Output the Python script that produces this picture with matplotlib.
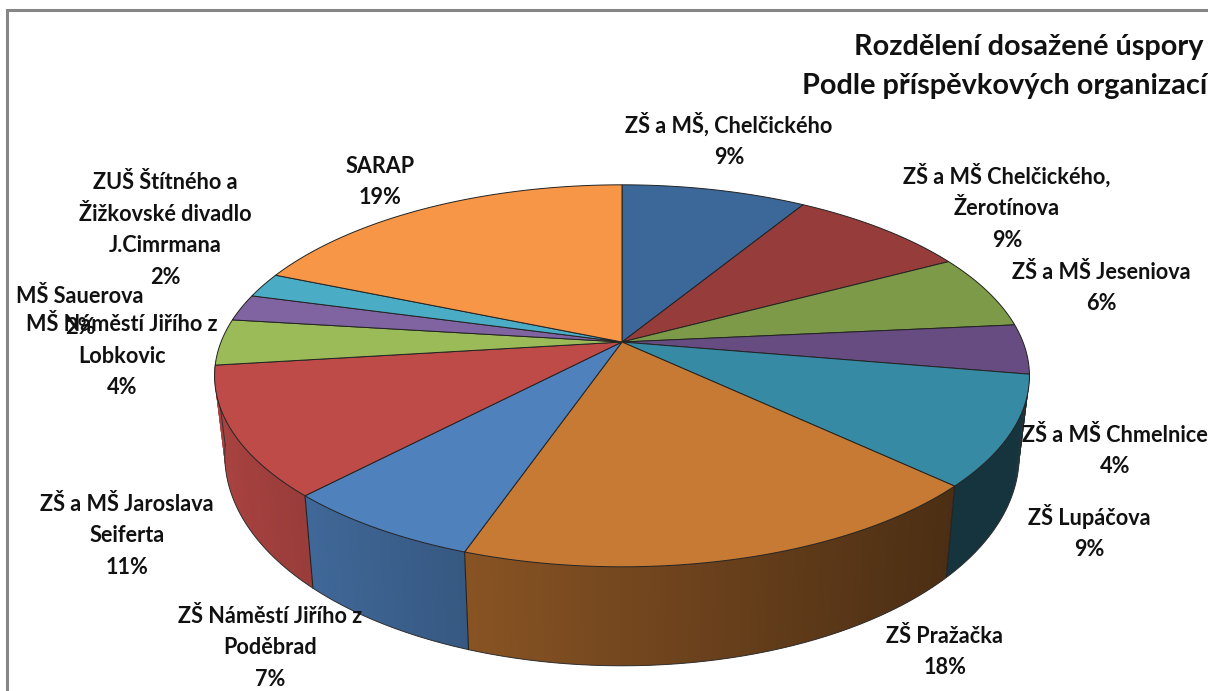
import numpy as np
import matplotlib
matplotlib.use("Agg")
import matplotlib.pyplot as plt
from matplotlib.patches import Polygon

# ---- data ----
categories = ["ZŠ a MŠ, Chelčického", "ZŠ a MŠ Chelčického,\nŽerotínova", "ZŠ a MŠ Jeseniova",
              "ZŠ a MŠ Chmelnice", "ZŠ Lupáčova", "ZŠ Pražačka", "ZŠ Náměstí Jiřího z\nPoděbrad",
              "ZŠ a MŠ Jaroslava\nSeiferta", "MŠ Náměstí Jiřího z\nLobkovic", "MŠ Sauerova",
              "ZUŠ Štítného a\nŽižkovské divadlo\nJ.Cimrmana", "SARAP"]
values = [8.7, 8.5, 6.3, 4.2, 9.3, 18.3, 6.8, 10.95, 3.9, 2.25, 2.1, 18.7]
percent_labels = [9, 9, 6, 4, 9, 18, 7, 11, 4, 2, 2, 19]
title_lines = ["Rozdělení dosažené úspory", "Podle příspěvkových organizací"]

# ---- style / layout ----
colors = ["#3C6899", "#963C3A", "#7D9A48", "#664C80", "#378AA3", "#C77A34",
          "#4F81BD", "#BE4B48", "#9BBB59", "#8064A2", "#4BACC6", "#F79646"]
label_pos = [(729, 140), (1007, 207), (1101, 288), (1115, 451), (1089, 532), (945, 652),
             (270, 648), (127, 536), (122, 356), (80, 312), (165, 230), (380, 182)]
FONT = "Lato"
CX, CY, A, B, K = 622.0, 342.0, 401.0, 185.0, 0.177
SHRINK = 0.975

def top_xy(theta):
    X, Y = np.sin(theta), -np.cos(theta)
    w = 1 - K * Y
    return CX + A * X / w, CY + B * Y / w

def bottom_xy(theta):
    x, y = top_xy(theta)
    Y = -np.cos(theta)
    return CX + (x - CX) * SHRINK, y + 75 + 24 * Y

def side_shade(x):
    return np.interp(x, [225, 312, 470, 947, 1025], [0.88, 0.80, 0.68, 0.38, 0.38])

fig = plt.figure(figsize=(12.08, 6.91), dpi=100)
ax = fig.add_axes([0, 0, 1, 1])
ax.set_xlim(0, 1208)
ax.set_ylim(691, 0)
ax.axis("off")

# chart-area frame
ax.plot([7, 7, 1208], [691, 10, 10], color="#868686", lw=2.2, solid_joinstyle="miter", zorder=1)

vals = np.array(values, dtype=float)
edges = np.concatenate([[0], np.cumsum(vals)]) / vals.sum() * 2 * np.pi
edge_c = "#222222"
SIDE_MIN, SIDE_MAX = np.radians(99), np.radians(262.5)

# side walls: overlapping strips, drawn in order, so that no seams show
z = 2.0
for i, col in enumerate(colors):
    a0, a1 = max(edges[i], SIDE_MIN), min(edges[i + 1], SIDE_MAX)
    if a1 <= a0:
        continue
    ts = np.linspace(a0, a1, max(2, int((a1 - a0) * 120)))
    rgb = np.array(matplotlib.colors.to_rgb(col))
    for t0, t1 in zip(ts[:-1], ts[1:]):
        t_end = min(t1 + 0.012, a1)
        xa, ya = top_xy(np.array([t0, t_end]))
        xb, yb = bottom_xy(np.array([t_end, t0]))
        c = rgb * side_shade((xa.mean() + xb.mean()) / 2)
        ax.add_patch(Polygon(np.c_[np.r_[xa, xb], np.r_[ya, yb]], closed=True,
                             facecolor=c, edgecolor="none", lw=0, zorder=z))
        z += 1e-4
for i in range(len(colors)):
    if SIDE_MIN < edges[i] < SIDE_MAX:
        xa, ya = top_xy(edges[i])
        xb, yb = bottom_xy(edges[i])
        ax.plot([xa, xb], [ya, yb], color=edge_c, lw=0.8, zorder=3)

# outer contour of the wall
ts = np.linspace(SIDE_MIN, SIDE_MAX, 300)
xb, yb = bottom_xy(ts)
ax.plot(xb, yb, color="#333333", lw=0.7, zorder=3)
for t in (SIDE_MIN, SIDE_MAX):
    xa, ya = top_xy(t)
    xb, yb = bottom_xy(t)
    ax.plot([xa, xb], [ya, yb], color="#333333", lw=0.7, zorder=3)

# top faces
for i, col in enumerate(colors):
    ts = np.linspace(edges[i], edges[i + 1], 80)
    x, y = top_xy(ts)
    pts = np.c_[np.r_[CX, x], np.r_[CY, y]]
    ax.add_patch(Polygon(pts, closed=True, facecolor=col, edgecolor=edge_c, lw=0.7, zorder=4))

# data labels
for name, pct, (lx, ly) in zip(categories, percent_labels, label_pos):
    ax.text(lx, ly, f"{name}\n{pct}%", ha="center", va="center", multialignment="center",
            fontsize=15.6, fontweight="bold", family=FONT, color="#111111", linespacing=1.62, zorder=6)

# title (right aligned at the picture edge)
ax.text(1204, 47, title_lines[0], ha="right", va="center", fontsize=20.8, fontweight="bold",
        family=FONT, color="#111111", zorder=6)
ax.text(1207, 86, title_lines[1], ha="right", va="center", fontsize=20.8, fontweight="bold",
        family=FONT, color="#111111", zorder=6)

fig.savefig("out.png", dpi=100, facecolor="white")
